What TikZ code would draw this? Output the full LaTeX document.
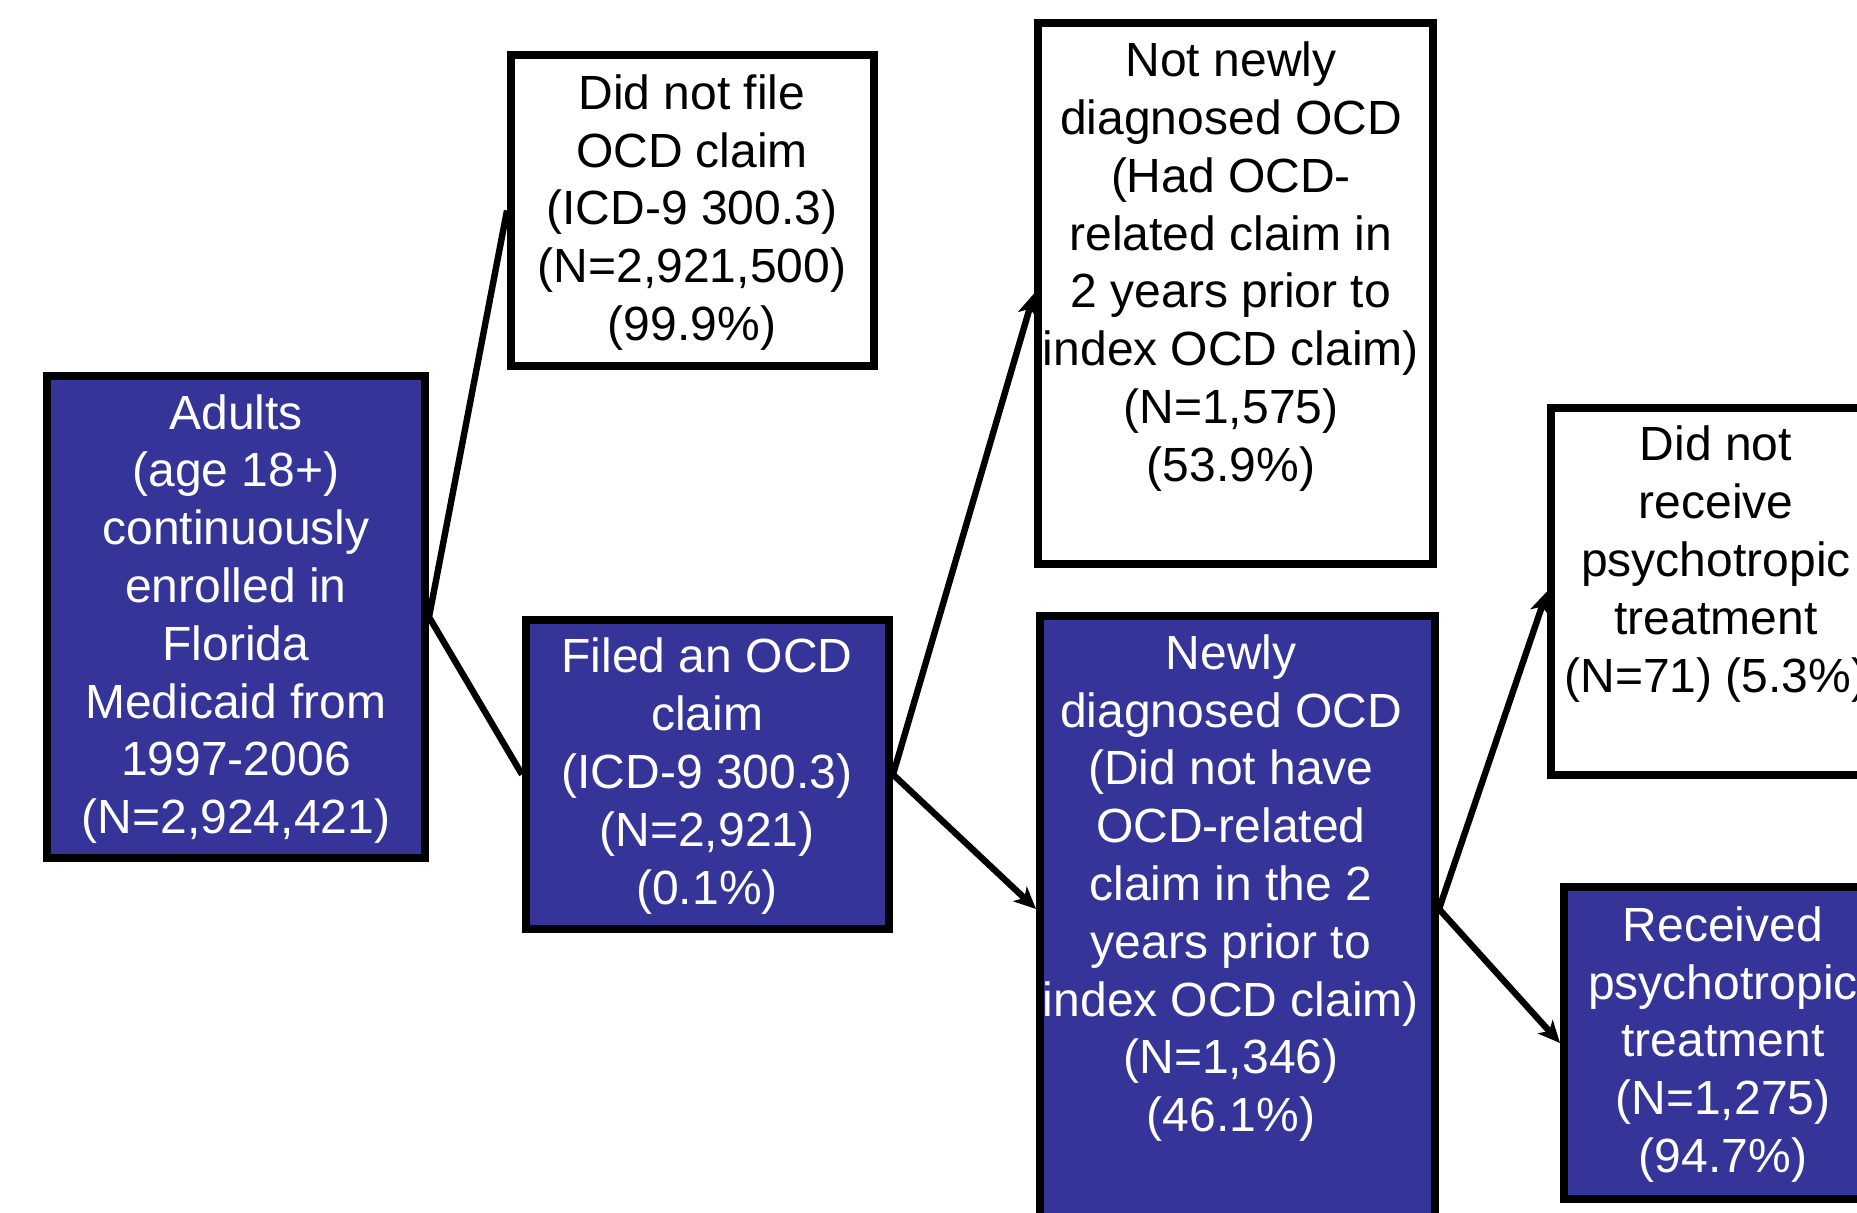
\documentclass[tikz,border=0pt]{standalone}
\usepackage{fontspec}
\setmainfont{Liberation Sans}
\usetikzlibrary{arrows.meta,calc}
\definecolor{boxblue}{RGB}{53,52,153}
\begin{document}
\begin{tikzpicture}[x=0.5pt,y=-0.5pt,
  frame/.style={draw=black,line width=4pt,rectangle,inner sep=0pt},
  bluebox/.style={frame,fill=boxblue},
  whitebox/.style={frame,fill=white},
  txt/.style={inner sep=0pt,align=center,font=\fontsize{24}{28.9}\selectfont},
  wtxt/.style={txt,text=white},
  btxt/.style={txt,text=black},
  link/.style={draw=black,line width=3.2pt},
  arr/.style={link,-{Stealth[length=11pt,width=10pt,inset=3pt]}}
]
\clip (0,0) rectangle (1857,1212);
\fill[white] (0,0) rectangle (1857,1212);

% boxes
\node[bluebox,minimum width=189pt,minimum height=241pt] (a) at (236,617) {};
\node[whitebox,minimum width=181.5pt,minimum height=155.5pt] (b) at (692.5,210.5) {};
\node[bluebox,minimum width=181.5pt,minimum height=154.5pt] (c) at (707.5,774.5) {};
\node[whitebox,minimum width=197.5pt,minimum height=270.5pt] (d) at (1235.5,293.5) {};
\node[bluebox,minimum width=197.5pt,minimum height=322pt] (e) at (1237.5,938) {};
\node[whitebox,minimum width=174.5pt,minimum height=183.5pt] (f) at (1725.5,591.5) {};
\node[bluebox,minimum width=168pt,minimum height=156pt] (g) at (1732,1043) {};

% texts
\node[wtxt] (ta) at (236,619) {Adults\\(age 18+)\\continuously\\enrolled in\\Florida\\Medicaid from\\1997-2006\\(N=2,924,421)};
\node[btxt] (tb) at (692,212.5) {Did not file\\OCD claim\\(ICD-9 300.3)\\(N=2,921,500)\\(99.9\%)};
\node[wtxt] (tc) at (707,776) {Filed an OCD\\claim\\(ICD-9 300.3)\\(N=2,921)\\(0.1\%)};
\node[btxt] (td) at (1231,266.5) {Not newly\\diagnosed OCD\\(Had OCD-\\related claim in\\2 years prior to\\index OCD claim)\\(N=1,575)\\(53.9\%)};
\node[wtxt] (te) at (1231,888) {Newly\\diagnosed OCD\\(Did not have\\OCD-related\\claim in the 2\\years prior to\\index OCD claim)\\(N=1,346)\\(46.1\%)};
\node[btxt] (tf) at (1716,564) {Did not\\receive\\psychotropic\\treatment\\(N=71) (5.3\%)};
\node[wtxt] (tg) at (1723,1044.5) {Received\\psychotropic\\treatment\\(N=1,275)\\(94.7\%)};

% anchor points on the tall box E
\coordinate (ein) at ($(e.north west)+(0,297)$);
\coordinate (eout) at ($(e.north east)+(0,297)$);

% connectors
\draw[link] (b.west) -- (a.east) -- (c.west);
\draw[arr] (c.east) -- (d.west);
\draw[arr] (c.east) -- (ein);
\draw[arr] (eout) -- (f.west);
\draw[arr] (eout) -- (g.west);
\end{tikzpicture}
\end{document}
